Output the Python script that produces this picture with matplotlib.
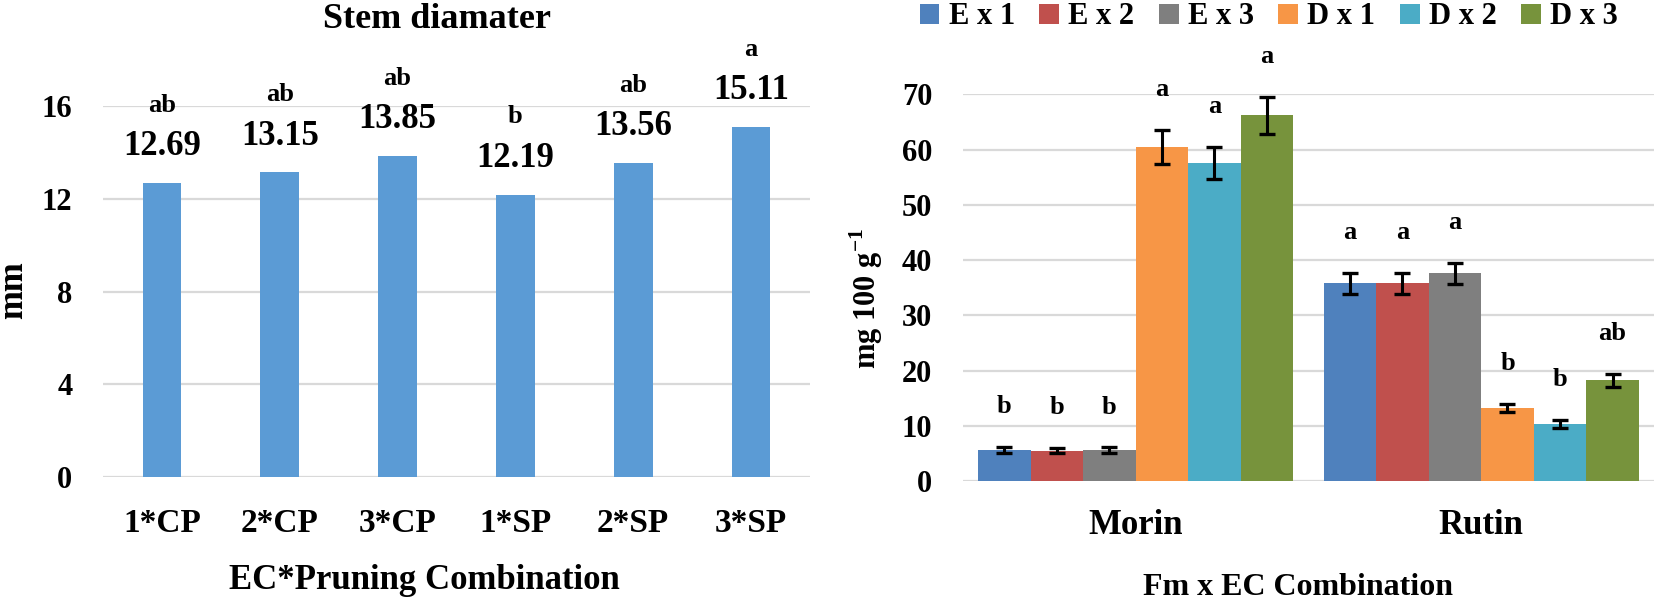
import numpy as np
import matplotlib
matplotlib.use("Agg")
import matplotlib.pyplot as plt

plt.rcParams['font.family'] = ['Liberation Serif', 'DejaVu Serif']
plt.rcParams['font.weight'] = 'bold'
plt.rcParams['axes.labelweight'] = 'bold'
plt.rcParams['mathtext.fontset'] = 'custom'
plt.rcParams['mathtext.rm'] = 'Liberation Serif:bold'
plt.rcParams['mathtext.bf'] = 'Liberation Serif:bold'

# left chart data
pruning = ["1*CP", "2*CP", "3*CP", "1*SP", "2*SP", "3*SP"]
stem = [12.69, 13.15, 13.85, 12.19, 13.56, 15.11]
stemLetters = ["ab", "ab", "ab", "b", "ab", "a"]

# right chart data
compounds = ["Morin", "Rutin"]
seriesNames = ["E x 1", "E x 2", "E x 3", "D x 1", "D x 2", "D x 3"]
seriesColors = ["#4F81BD", "#C0504D", "#7F7F7F", "#F79646", "#4BACC6", "#77933C"]
morin = [5.6, 5.5, 5.6, 60.5, 57.6, 66.2]
morinErr = [0.6, 0.5, 0.5, 3.1, 2.9, 3.4]
rutin = [35.8, 35.8, 37.6, 13.2, 10.3, 18.2]
rutinErr = [1.9, 1.9, 1.9, 0.8, 0.7, 1.2]
morinLetters = ["b", "b", "b", "a", "a", "a"]
rutinLetters = ["a", "a", "a", "b", "b", "ab"]

gridColor = "#D9D9D9"
serif = "Liberation Serif"

fig = plt.figure(figsize=(16.54, 6.07), dpi=100)

def styleAxes(ax):
    for s in ax.spines.values():
        s.set_visible(False)
    ax.yaxis.grid(True, color=gridColor, linewidth=1.6)
    ax.set_axisbelow(True)
    ax.tick_params(length=0)

# ---- left: stem diameter ----
axL = fig.add_axes([0.0623, 0.214, 0.4274, 0.611])
styleAxes(axL)
xL = np.arange(len(pruning))
axL.bar(xL, stem, width=0.33, color="#5B9BD5", zorder=2)
axL.set_xlim(-0.5, 5.5)
axL.set_ylim(0, 16)
axL.set_yticks([0, 4, 8, 12, 16])
axL.set_xticks(xL)
axL.set_xticklabels(pruning, fontsize=24)
axL.tick_params(axis='y', labelsize=22, pad=22)
axL.tick_params(axis='x', pad=22)
for x, v, let in zip(xL, stem, stemLetters):
    axL.annotate("%.2f" % v, (x, v), xytext=(0, 26), textcoords="offset points",
                 ha="center", va="center", fontsize=25, family=serif,
                 fontweight="bold", annotation_clip=False)
    axL.annotate(let, (x, v), xytext=(0, 56), textcoords="offset points",
                 ha="center", va="center", fontsize=19, family=serif,
                 fontweight="bold", annotation_clip=False)
axL.set_xlabel("EC*Pruning Combination", fontsize=25, va="center", fontweight="bold")
axL.xaxis.set_label_coords(0.454, -0.278)
axL.set_ylabel("mm", fontsize=25, va="center", fontweight="bold")
axL.yaxis.set_label_coords(-0.127, 0.504)
fig.text(437 / 1654, 1 - 19 / 607, "Stem diamater", ha="center", va="center",
         fontsize=26, fontweight="bold")

# ---- right: morin / rutin ----
axR = fig.add_axes([0.5822, 0.2076, 0.4178, 0.637])
styleAxes(axR)
xR = np.arange(len(compounds))
barW = 0.152
values = np.array([morin, rutin]).T
errors = np.array([morinErr, rutinErr]).T
letters = np.array([morinLetters, rutinLetters]).T
handles = []
for i, name in enumerate(seriesNames):
    pos = xR + (i - 2.5) * barW
    b = axR.bar(pos, values[i], width=barW, color=seriesColors[i], label=name, zorder=2)
    handles.append(b)
    axR.errorbar(pos, values[i], yerr=errors[i], fmt="none", ecolor="black",
                 elinewidth=2.2, capsize=5.5, capthick=2.4, zorder=3)
    for p, v, e, let in zip(pos, values[i], errors[i], letters[i]):
        axR.annotate(let, (p, v + e), xytext=(0, 29), textcoords="offset points",
                     ha="center", va="center", fontsize=19, family=serif,
                     fontweight="bold", annotation_clip=False)
axR.set_xlim(-0.5, 1.5)
axR.set_ylim(0, 70)
axR.set_yticks(range(0, 71, 10))
axR.set_xticks(xR)
axR.set_xticklabels(compounds, fontsize=25)
axR.tick_params(axis='y', labelsize=22, pad=22)
axR.tick_params(axis='x', pad=20)
axR.set_xlabel("Fm x EC Combination", fontsize=23, va="center", fontweight="bold")
axR.xaxis.set_label_coords(0.485, -0.275)
axR.set_ylabel("mg 100 g$^{-1}$", fontsize=22, va="center", fontweight="bold")
axR.yaxis.set_label_coords(-0.14, 0.473)

fig.legend(handles=handles, labels=seriesNames, loc="center", ncol=6,
           bbox_to_anchor=(0.767, 0.972), bbox_transform=fig.transFigure,
           frameon=False, fontsize=22, handlelength=0.65, handleheight=0.65,
           handletextpad=0.3, columnspacing=0.8, borderpad=0)

fig.savefig("out.png", dpi=100)
